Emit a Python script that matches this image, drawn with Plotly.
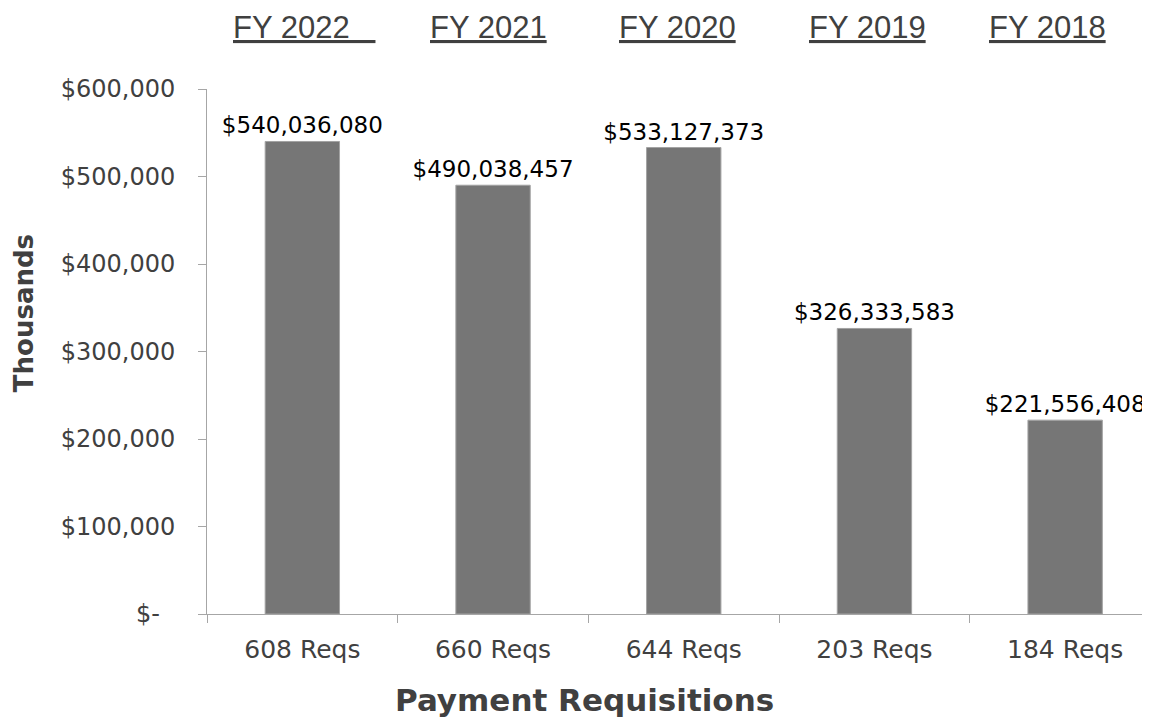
import plotly.graph_objects as go

# ---- data ----
req_labels = ["608 Reqs", "660 Reqs", "644 Reqs", "203 Reqs", "184 Reqs"]
fiscal_years = ["FY 2022", "FY 2021", "FY 2020", "FY 2019", "FY 2018"]
amounts_usd = [540036080, 490038457, 533127373, 326333583, 221556408]
y_tick_vals = [0, 100000, 200000, 300000, 400000, 500000, 600000]
y_tick_text = ["$-\u00a0\u00a0", "$100,000", "$200,000", "$300,000", "$400,000", "$500,000", "$600,000"]
x_title = "Payment Requisitions"
y_title = "Thousands"

amounts_thousands = [a / 1000 for a in amounts_usd]
bar_text = ["$" + f"{a:,}" for a in amounts_usd]

BODY_FONT = "'DejaVu Sans', sans-serif"
HEAD_FONT = "'Liberation Sans', Arial, sans-serif"

fig = go.Figure()
fig.add_trace(go.Bar(
    x=req_labels,
    y=amounts_thousands,
    text=bar_text,
    textposition="outside",
    constraintext="none",
    cliponaxis=False,
    textfont=dict(family=BODY_FONT, size=23, color="#000000"),
    marker=dict(color="#767676", line=dict(color="#a3a3a3", width=1)),
    width=0.39,
    hoverinfo="skip",
))

# FY header labels (underlined)
fy_shift = [2, -5, -6, -7, -18]
fy_suffix = ["\u00a0\u00a0\u00a0", "", "", "", ""]
for cat, fy, sh, suf in zip(req_labels, fiscal_years, fy_shift, fy_suffix):
    fig.add_annotation(
        x=cat, xref="x", y=1, yref="paper", yshift=62, xshift=sh,
        text="<u>" + fy + suf + "</u>", showarrow=False,
        xanchor="center", yanchor="middle",
        font=dict(family=HEAD_FONT, size=31, color="#404040"),
    )

# axis titles
fig.add_annotation(
    x=0.4, xref="paper", y=0, yref="paper", yshift=-86,
    text="<b>" + x_title + "</b>", showarrow=False,
    xanchor="center", yanchor="middle",
    font=dict(family=BODY_FONT, size=31, color="#404040"),
)
fig.add_annotation(
    x=0, xref="paper", y=0.573, yref="paper", xshift=-183,
    text="<b>" + y_title + "</b>", showarrow=False, textangle=-90,
    xanchor="center", yanchor="middle",
    font=dict(family=BODY_FONT, size=26, color="#404040"),
)

fig.update_layout(
    width=1150, height=717,
    margin=dict(l=199, r=8, t=81, b=111),
    paper_bgcolor="white", plot_bgcolor="white",
    showlegend=False,
)
fig.update_xaxes(
    range=[-0.5, 4.445],
    showline=True, linecolor="#a6a6a6", linewidth=1,
    ticks="outside", tickson="boundaries", ticklen=8, tickcolor="#a6a6a6",
    tickfont=dict(family=BODY_FONT, size=25, color="#404040"),
    ticklabelstandoff=13,
    showgrid=False, zeroline=False,
)
fig.update_yaxes(
    range=[0, 600000],
    tickvals=y_tick_vals, ticktext=y_tick_text,
    showline=True, linecolor="#a6a6a6", linewidth=1,
    ticks="outside", ticklen=8, tickcolor="#a6a6a6",
    tickfont=dict(family=BODY_FONT, size=24, color="#404040"),
    ticklabelstandoff=18,
    showgrid=False, zeroline=False,
)

fig.write_html("out.html")
